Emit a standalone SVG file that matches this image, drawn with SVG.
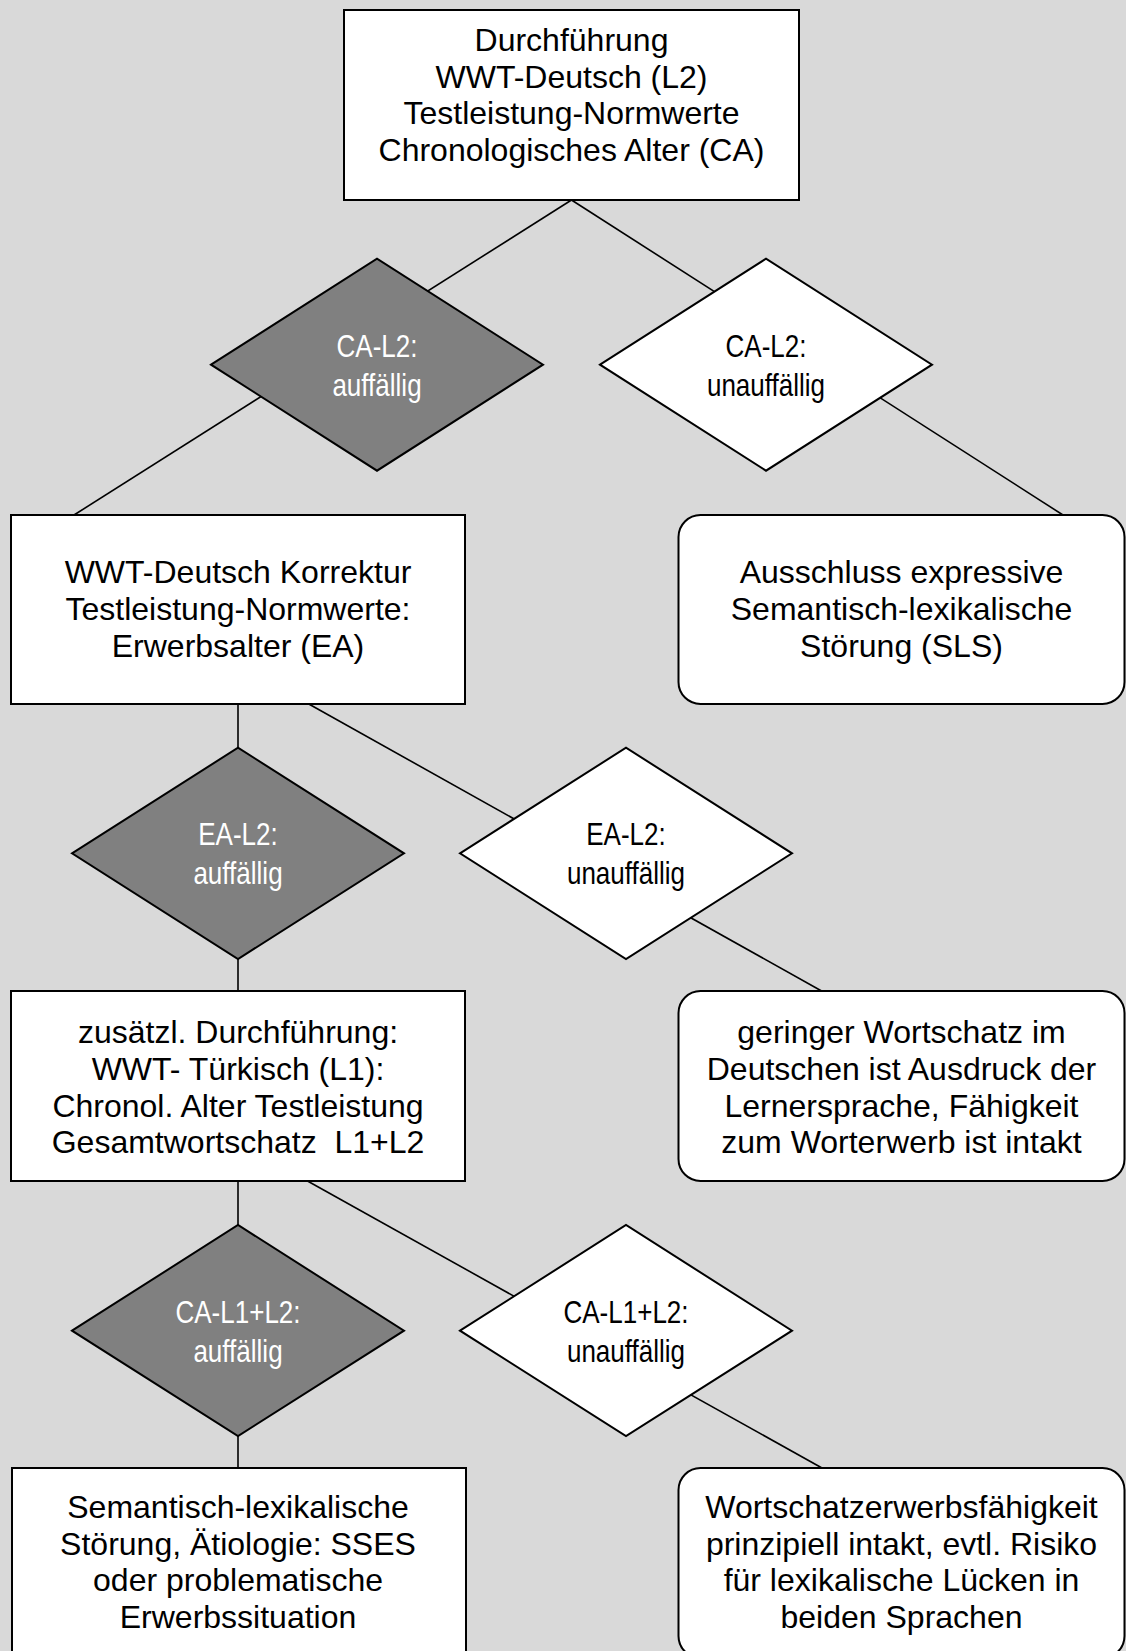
<svg xmlns="http://www.w3.org/2000/svg" width="1126" height="1651" viewBox="0 0 1126 1651">
<style>
.box{fill:#fff;stroke:#000;stroke-width:2}
.dk{fill:#808080;stroke:#000;stroke-width:2}
.lt{fill:#fff;stroke:#000;stroke-width:2}
.t{font-family:"Liberation Sans",Arial,sans-serif;font-size:32px;fill:#000;text-anchor:middle}
.d{font-family:"Liberation Sans",Arial,sans-serif;font-size:31px;text-anchor:middle}
.dw{fill:#fff}
.db{fill:#000}
#connectors line{stroke:#000;stroke-width:1.6}
</style>
<rect x="0" y="0" width="1126" height="1651" fill="#d9d9d9"/>
<g id="connectors">
<line x1="571.5" y1="200" x2="74" y2="515"/>
<line x1="571.5" y1="200" x2="1063" y2="515"/>
<line x1="238" y1="704" x2="238" y2="991"/>
<line x1="308.8" y1="704" x2="821.6" y2="991"/>
<line x1="238" y1="1181" x2="238" y2="1468"/>
<line x1="307.5" y1="1181" x2="822" y2="1468"/>
</g>
<g id="n-start">
<rect class="box" x="344" y="10" width="455" height="190"/>
<text class="t" x="571.5" y="50.8">Durchführung</text>
<text class="t" x="571.5" y="87.6">WWT-Deutsch (L2)</text>
<text class="t" x="571.5" y="124.4">Testleistung-Normwerte</text>
<text class="t" x="571.5" y="161.2">Chronologisches Alter (CA)</text>
</g>
<g id="d-ca-l2-auff">
<polygon class="dk" points="211,364.7 377,258.7 543,364.7 377,470.7"/>
<text class="d dw" transform="matrix(0.84 0 0 1 377 356.7)">CA-L2:</text>
<text class="d dw" transform="matrix(0.84 0 0 1 377 395.7)">auffällig</text>
</g>
<g id="d-ca-l2-unauff">
<polygon class="lt" points="600,364.7 766,258.7 932,364.7 766,470.7"/>
<text class="d db" transform="matrix(0.84 0 0 1 766 356.7)">CA-L2:</text>
<text class="d db" transform="matrix(0.84 0 0 1 766 395.7)">unauffällig</text>
</g>
<g id="n-korrektur">
<rect class="box" x="11" y="515" width="454" height="189"/>
<text class="t" x="238" y="583.3">WWT-Deutsch Korrektur</text>
<text class="t" x="238" y="620.1">Testleistung-Normwerte:</text>
<text class="t" x="238" y="656.9">Erwerbsalter (EA)</text>
</g>
<g id="n-ausschluss">
<rect class="box" x="678.5" y="515" width="446" height="189" rx="22" ry="22"/>
<text class="t" x="901.5" y="583.3">Ausschluss expressive</text>
<text class="t" x="901.5" y="620.1">Semantisch-lexikalische</text>
<text class="t" x="901.5" y="656.9">Störung (SLS)</text>
</g>
<g id="d-ea-l2-auff">
<polygon class="dk" points="72,853.3 238,747.7 404,853.3 238,959"/>
<text class="d dw" transform="matrix(0.84 0 0 1 238 845.3)">EA-L2:</text>
<text class="d dw" transform="matrix(0.84 0 0 1 238 884.3)">auffällig</text>
</g>
<g id="d-ea-l2-unauff">
<polygon class="lt" points="460,853.3 626,747.7 792,853.3 626,959"/>
<text class="d db" transform="matrix(0.84 0 0 1 626 845.3)">EA-L2:</text>
<text class="d db" transform="matrix(0.84 0 0 1 626 884.3)">unauffällig</text>
</g>
<g id="n-tuerkisch">
<rect class="box" x="11" y="991" width="454" height="190"/>
<text class="t" x="238" y="1043">zusätzl. Durchführung:</text>
<text class="t" x="238" y="1079.8">WWT- Türkisch (L1):</text>
<text class="t" x="238" y="1116.6">Chronol. Alter Testleistung</text>
<text class="t" x="238" y="1153.4" xml:space="preserve">Gesamtwortschatz  L1+L2</text>
</g>
<g id="n-wortschatz">
<rect class="box" x="678.5" y="991" width="446" height="190" rx="22" ry="22"/>
<text class="t" x="901.5" y="1043">geringer Wortschatz im</text>
<text class="t" x="901.5" y="1079.8">Deutschen ist Ausdruck der</text>
<text class="t" x="901.5" y="1116.6">Lernersprache, Fähigkeit</text>
<text class="t" x="901.5" y="1153.4">zum Worterwerb ist intakt</text>
</g>
<g id="d-ca-l1l2-auff">
<polygon class="dk" points="72,1330.7 238,1225 404,1330.7 238,1436"/>
<text class="d dw" transform="matrix(0.84 0 0 1 238 1322.7)">CA-L1+L2:</text>
<text class="d dw" transform="matrix(0.84 0 0 1 238 1361.7)">auffällig</text>
</g>
<g id="d-ca-l1l2-unauff">
<polygon class="lt" points="460,1330.7 626,1225 792,1330.7 626,1436"/>
<text class="d db" transform="matrix(0.84 0 0 1 626 1322.7)">CA-L1+L2:</text>
<text class="d db" transform="matrix(0.84 0 0 1 626 1361.7)">unauffällig</text>
</g>
<g id="n-sses">
<rect class="box" x="12" y="1468" width="454" height="190"/>
<text class="t" x="238" y="1517.7">Semantisch-lexikalische</text>
<text class="t" x="238" y="1554.5">Störung, Ätiologie: SSES</text>
<text class="t" x="238" y="1591.3">oder problematische</text>
<text class="t" x="238" y="1628.1">Erwerbssituation</text>
</g>
<g id="n-intakt">
<rect class="box" x="678.5" y="1468" width="446" height="190" rx="22" ry="22"/>
<text class="t" x="901.5" y="1517.7">Wortschatzerwerbsfähigkeit</text>
<text class="t" x="901.5" y="1554.5">prinzipiell intakt, evtl. Risiko</text>
<text class="t" x="901.5" y="1591.3">für lexikalische Lücken in</text>
<text class="t" x="901.5" y="1628.1">beiden Sprachen</text>
</g>
</svg>
